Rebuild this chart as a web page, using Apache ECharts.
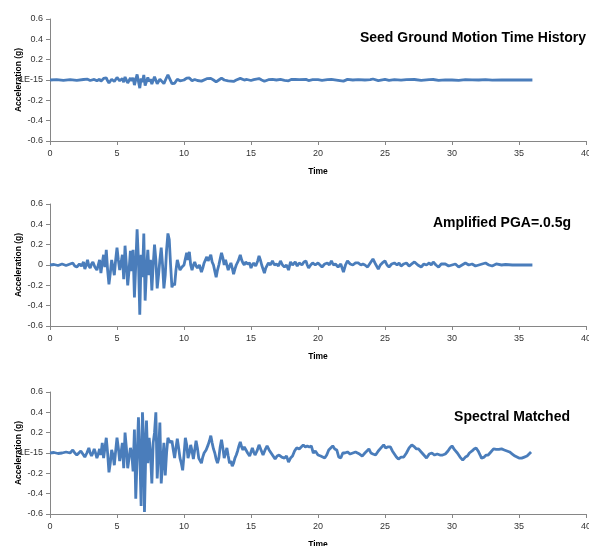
<!DOCTYPE html>
<html>
<head>
<meta charset="utf-8">
<script src="https://cdn.jsdelivr.net/npm/echarts@6/dist/echarts.min.js"></script>
<style>
  html, body { margin: 0; padding: 0; background: #fff; }
  #main { width: 589px; height: 546px; }
</style>
</head>
<body>
<div id="main"></div>
<script>
// titles, axis ticks
var panelTitles = ['Seed Ground Motion Time History', 'Amplified PGA=.0.5g', 'Spectral Matched'];
var zeroLabels = ['1E-15', '0', '1E-15'];
var xTicks = [0, 5, 10, 15, 20, 25, 30, 35, 40];
var yTicks = [-0.6, -0.4, -0.2, 0, 0.2, 0.4, 0.6];

// time (s), acceleration (g)
var seed = [
  [0,0],[0.5,0.003],[1.0,-0.003],[1.5,0.004],[2.0,-0.004],[2.5,0.005],[2.8,0.008],[3.0,-0.005],[3.3,0.006],[3.5,-0.008],
  [3.7,0.008],[3.8,-0.012],[4.0,0.015],[4.2,0.02],[4.3,-0.008],[4.4,-0.03],[4.6,0.008],[4.8,-0.015],[5.0,0.025],[5.2,-0.008],
  [5.4,0.015],[5.5,-0.022],[5.6,0.03],[5.8,-0.03],[6.0,0.02],[6.1,-0.01],[6.2,0.022],[6.3,-0.05],[6.5,0.055],[6.7,-0.08],
  [6.8,0.015],[6.9,-0.02],[7.0,0.05],[7.1,-0.055],[7.3,0.025],[7.4,-0.015],[7.5,0.008],[7.6,-0.04],[7.8,0.032],[8.0,-0.036],
  [8.2,0.008],[8.3,0.027],[8.5,-0.036],[8.7,0.024],[8.8,0.05],[8.9,0.04],[9.1,-0.035],[9.3,-0.032],[9.5,0.008],[9.7,-0.008],
  [10.0,0.0],[10.2,0.019],[10.3,0.008],[10.4,0.02],[10.6,-0.008],[10.8,0.005],[11.0,-0.005],[11.3,-0.011],[11.7,0.013],[12.0,0.016],
  [12.2,0.0],[12.4,-0.019],[12.6,0.0],[12.8,0.019],[13.0,0.0],[13.1,0.008],[13.3,-0.008],[13.7,-0.014],[13.9,0.0],[14.2,0.016],
  [14.5,0.0],[14.7,0.005],[15.0,-0.005],[15.2,0.003],[15.6,0.014],[15.8,0.0],[16.0,-0.013],[16.3,0.003],[16.6,0.006],[16.9,0.0],
  [17.2,0.006],[17.5,-0.003],[17.8,-0.008],[18.0,0.005],[18.3,0.005],[18.6,0.003],[19.1,0.006],[19.3,-0.005],[19.6,0.003],[20.0,0.003],
  [20.3,-0.003],[20.7,0.003],[21.0,0.006],[21.5,-0.003],[21.9,-0.011],[22.2,0.006],[22.6,0.0],[23.0,0.003],[23.5,0.0],[23.9,0.003],
  [24.1,0.01],[24.5,-0.006],[25.0,0.006],[25.3,-0.003],[25.7,0.003],[26.2,-0.002],[26.6,0.003],[27.2,0.005],[27.7,-0.003],[28.3,0.003],
  [28.6,0.005],[29.0,-0.003],[29.5,0.002],[30.0,0.0],[30.5,-0.003],[31.0,0.003],[31.5,0.002],[32.0,0.0],[32.5,0.003],[33.0,-0.002],
  [33.7,0.0],[34.5,0.0],[36.0,0.0]
];

var amplified = [
  [0,0],[0.3,0.005],[0.6,-0.005],[0.9,0.01],[1.2,-0.005],[1.5,0.01],[1.7,0.02],[1.85,-0.01],[2.0,-0.02],[2.2,0.01],
  [2.35,-0.01],[2.5,0.03],[2.6,-0.04],[2.7,0.0],[2.8,0.05],[2.9,-0.01],[3.0,-0.03],[3.1,0.01],[3.2,0.03],[3.35,-0.02],
  [3.5,-0.05],[3.6,0.0],[3.7,0.05],[3.8,-0.08],[3.9,0.02],[4.0,0.1],[4.1,-0.02],[4.2,0.15],[4.3,-0.05],[4.4,-0.19],
  [4.5,-0.08],[4.6,0.05],[4.7,-0.02],[4.8,-0.1],[4.9,0.05],[5.0,0.17],[5.1,0.05],[5.2,-0.05],[5.3,0.02],[5.4,0.1],
  [5.5,-0.14],[5.6,0.19],[5.7,0.0],[5.8,-0.2],[5.9,-0.05],[6.0,0.14],[6.1,-0.06],[6.2,0.15],[6.3,-0.32],[6.4,0.0],
  [6.5,0.35],[6.6,0.05],[6.7,-0.49],[6.8,0.1],[6.9,-0.12],[7.0,0.31],[7.1,-0.35],[7.2,-0.05],[7.3,0.15],[7.4,-0.1],
  [7.5,0.05],[7.6,-0.25],[7.7,0.0],[7.8,0.2],[7.9,0.05],[8.0,-0.23],[8.1,-0.1],[8.2,0.05],[8.3,0.17],[8.4,0.0],
  [8.5,-0.23],[8.6,-0.1],[8.7,0.15],[8.8,0.31],[8.9,0.25],[9.0,0.0],[9.1,-0.22],[9.2,-0.18],[9.3,-0.2],[9.4,-0.05],
  [9.5,0.05],[9.6,0.0],[9.7,-0.05],[9.85,-0.02],[10.0,0.0],[10.1,0.06],[10.2,0.12],[10.3,0.05],[10.4,0.13],[10.5,0.0],
  [10.6,-0.05],[10.7,0.0],[10.8,0.03],[10.9,-0.01],[11.0,-0.03],[11.15,0.0],[11.3,-0.07],[11.4,-0.03],[11.5,0.02],[11.6,0.01],
  [11.7,0.08],[11.8,0.04],[11.9,0.05],[12.0,0.1],[12.1,0.03],[12.2,0.0],[12.3,-0.06],[12.4,-0.12],[12.5,-0.05],[12.6,0.0],
  [12.7,0.06],[12.8,0.12],[12.9,0.07],[13.0,0.0],[13.1,0.05],[13.2,0.0],[13.3,-0.05],[13.4,-0.01],[13.5,0.02],[13.6,-0.03],
  [13.7,-0.09],[13.8,-0.04],[13.9,0.0],[14.05,0.04],[14.2,0.1],[14.3,0.05],[14.4,0.02],[14.5,0.0],[14.6,0.03],[14.75,0.01],
  [14.9,0.02],[15.0,-0.03],[15.1,0.0],[15.2,0.02],[15.35,-0.01],[15.5,0.04],[15.6,0.09],[15.7,0.05],[15.8,0.0],[15.9,-0.04],
  [16.0,-0.08],[16.1,-0.03],[16.3,0.02],[16.45,0.0],[16.6,0.04],[16.75,0.0],[16.9,0.01],[17.05,-0.01],[17.2,0.04],[17.35,0.0],
  [17.5,-0.02],[17.65,0.0],[17.8,-0.05],[17.95,0.03],[18.1,0.0],[18.3,0.03],[18.45,-0.01],[18.6,0.02],[18.8,0.0],[18.95,0.03],
  [19.1,0.04],[19.2,0.0],[19.3,-0.03],[19.45,0.0],[19.6,0.02],[19.8,0.0],[20.0,0.02],[20.15,0.0],[20.3,-0.02],[20.5,0.01],
  [20.7,0.02],[20.85,0.0],[21.0,0.04],[21.15,0.0],[21.3,0.01],[21.5,-0.02],[21.7,0.01],[21.9,-0.07],[22.05,0.0],[22.2,0.04],
  [22.4,0.01],[22.6,0.0],[22.8,0.02],[23.0,0.02],[23.2,0.0],[23.35,0.01],[23.5,0.0],[23.7,-0.02],[23.9,0.02],[24.1,0.06],
  [24.25,0.02],[24.5,-0.04],[24.65,0.0],[24.8,0.02],[25.0,0.04],[25.15,0.0],[25.3,-0.02],[25.5,0.01],[25.7,0.02],[25.9,0.0],
  [26.05,0.02],[26.2,-0.01],[26.4,0.01],[26.6,0.02],[26.8,-0.01],[27.0,0.01],[27.2,0.03],[27.45,0.0],[27.7,-0.02],[27.9,0.01],
  [28.1,0.0],[28.3,0.02],[28.45,0.0],[28.6,0.03],[28.8,0.0],[29.0,-0.02],[29.2,0.01],[29.5,0.01],[29.75,-0.01],[30.0,0.0],
  [30.25,0.01],[30.5,-0.02],[30.75,0.0],[31.0,0.02],[31.25,0.0],[31.5,0.01],[31.75,-0.01],[32.0,0.0],[32.25,0.01],[32.5,0.02],
  [32.75,0.0],[33.0,-0.01],[33.3,0.01],[33.7,0.0],[34.0,0.005],[34.5,0.0],[35.0,0.0],[35.5,0.0],[36.0,0.0]
];

var spectral = [
  [0,0],[0.3,0.005],[0.6,-0.005],[0.9,0.0],[1.2,0.01],[1.5,0.0],[1.7,0.03],[1.85,0.0],[2.0,-0.02],[2.15,0.0],
  [2.3,0.02],[2.45,-0.01],[2.6,-0.04],[2.75,0.0],[2.9,0.05],[3.0,0.0],[3.1,-0.03],[3.2,0.0],[3.3,0.04],[3.4,0.0],
  [3.5,-0.05],[3.6,-0.01],[3.7,0.04],[3.8,-0.02],[3.9,0.1],[4.0,-0.05],[4.1,0.05],[4.2,0.15],[4.3,0.0],[4.4,-0.19],
  [4.5,-0.1],[4.6,0.03],[4.7,-0.02],[4.8,-0.12],[4.9,0.02],[5.0,0.15],[5.1,0.05],[5.2,-0.08],[5.3,0.0],[5.4,0.1],
  [5.5,-0.15],[5.6,0.2],[5.7,0.05],[5.8,-0.15],[5.9,-0.05],[6.0,0.05],[6.1,0.0],[6.2,-0.18],[6.3,0.23],[6.4,-0.45],
  [6.5,-0.05],[6.6,0.35],[6.7,0.0],[6.8,-0.52],[6.9,0.4],[7.0,0.1],[7.05,-0.58],[7.2,0.32],[7.3,-0.1],[7.4,0.15],
  [7.5,0.0],[7.6,-0.3],[7.7,0.1],[7.8,0.2],[7.9,0.4],[8.0,-0.25],[8.1,0.0],[8.2,0.3],[8.3,-0.3],[8.4,-0.1],
  [8.5,0.1],[8.6,-0.22],[8.7,0.0],[8.8,0.15],[8.9,0.12],[9.0,0.1],[9.1,0.12],[9.2,0.03],[9.3,-0.05],[9.4,0.05],
  [9.5,0.14],[9.6,0.05],[9.7,-0.05],[9.8,-0.1],[9.9,-0.17],[10.0,-0.02],[10.1,0.15],[10.2,0.08],[10.3,-0.05],[10.4,0.0],
  [10.5,0.08],[10.6,0.02],[10.7,-0.06],[10.8,0.03],[10.9,0.12],[11.0,0.05],[11.1,-0.05],[11.2,-0.06],[11.3,-0.1],[11.4,-0.04],
  [11.5,0.0],[11.65,0.03],[11.8,0.08],[11.9,0.12],[12.0,0.17],[12.1,0.1],[12.2,0.04],[12.3,0.0],[12.4,-0.06],[12.5,-0.1],
  [12.6,-0.05],[12.7,0.06],[12.8,0.13],[12.9,0.05],[13.0,-0.05],[13.1,0.0],[13.2,0.05],[13.3,-0.03],[13.4,-0.1],[13.5,-0.08],
  [13.6,-0.13],[13.7,-0.1],[13.8,-0.05],[13.9,-0.02],[14.0,0.02],[14.1,0.07],[14.2,0.11],[14.3,0.06],[14.4,0.03],[14.5,0.06],
  [14.6,0.05],[14.75,0.0],[14.9,-0.03],[15.0,0.01],[15.1,0.05],[15.2,0.01],[15.3,-0.02],[15.45,0.02],[15.6,0.08],[15.75,0.03],
  [15.9,-0.02],[16.05,0.03],[16.2,0.07],[16.35,0.03],[16.5,0.0],[16.65,-0.03],[16.8,-0.06],[16.95,-0.03],[17.1,-0.02],[17.3,-0.04],
  [17.5,-0.05],[17.65,-0.03],[17.8,-0.09],[17.95,-0.05],[18.1,-0.03],[18.25,0.02],[18.4,0.05],[18.6,0.04],[18.75,0.06],[18.9,0.08],
  [19.05,0.06],[19.2,0.07],[19.35,0.06],[19.5,0.07],[19.65,0.0],[19.8,0.02],[20.0,-0.02],[20.2,-0.03],[20.35,-0.04],[20.5,-0.05],
  [20.65,-0.02],[20.8,0.03],[20.95,0.05],[21.1,0.07],[21.25,0.04],[21.4,0.03],[21.55,-0.04],[21.7,-0.05],[21.85,0.0],[22.0,0.0],
  [22.2,0.01],[22.4,-0.01],[22.6,0.0],[22.8,0.01],[22.9,0.02],[23.1,-0.01],[23.3,-0.03],[23.5,0.0],[23.65,0.02],[23.8,0.04],
  [23.95,0.0],[24.1,-0.01],[24.3,-0.02],[24.5,0.02],[24.7,0.05],[24.9,0.08],[25.05,0.05],[25.2,0.06],[25.4,0.06],[25.55,0.02],
  [25.7,-0.01],[25.85,-0.04],[26.0,-0.06],[26.2,-0.04],[26.4,-0.04],[26.6,0.0],[26.8,0.05],[27.0,0.08],[27.2,0.06],[27.35,0.04],
  [27.5,0.04],[27.7,0.01],[27.9,-0.02],[28.1,-0.05],[28.3,-0.01],[28.5,0.0],[28.7,-0.02],[28.9,-0.01],[29.1,-0.02],[29.3,-0.02],
  [29.5,-0.01],[29.7,0.02],[29.85,0.05],[30.0,0.07],[30.2,0.03],[30.4,0.0],[30.6,-0.04],[30.8,-0.07],[31.0,-0.04],[31.15,-0.03],
  [31.3,0.0],[31.5,0.02],[31.65,0.04],[31.8,0.05],[31.95,0.02],[32.1,-0.02],[32.2,-0.05],[32.4,-0.04],[32.55,-0.02],[32.7,-0.02],
  [32.9,0.01],[33.1,0.04],[33.3,0.035],[33.5,0.035],[33.7,0.04],[33.9,0.03],[34.1,0.02],[34.3,0.01],[34.5,-0.01],[34.7,-0.03],
  [34.85,-0.04],[35.0,-0.05],[35.2,-0.05],[35.4,-0.04],[35.6,-0.03],[35.75,-0.01],[35.9,0.01]
];

var seriesData = [seed, amplified, spectral];

var chart = echarts.init(document.getElementById('main'));
var font = 'Liberation Sans, Arial, sans-serif';
var gridTops = [19, 204, 392];
var titleTops = [31, 216, 410];
var titleRights = [3, 18, 19];

var grids = [], xAxes = [], yAxes = [], series = [], titles = [];
for (var i = 0; i < 3; i++) {
  (function(i){
    grids.push({ left: 50, right: 3, top: gridTops[i], height: 122, containLabel: false, outerBoundsMode: 'none' });
    titles.push({
      text: panelTitles[i], right: titleRights[i], top: titleTops[i], padding: 0,
      textStyle: { fontFamily: font, fontSize: 14, fontWeight: 'bold', color: '#000' }
    });
    xAxes.push({
      type: 'value', gridIndex: i, min: xTicks[0], max: xTicks[xTicks.length - 1], interval: 5,
      name: 'Time', nameLocation: 'middle', nameGap: 26, nameMoveOverlap: false,
      nameTextStyle: { fontFamily: font, fontSize: 8.5, fontWeight: 'bold', color: '#000' },
      axisLine: { show: true, onZero: false, lineStyle: { color: '#868686', width: 1 } },
      axisTick: { show: true, length: 4, lineStyle: { color: '#868686' } },
      axisLabel: { fontFamily: font, fontSize: 9, color: '#333', margin: 8 },
      splitLine: { show: false }
    });
    yAxes.push({
      type: 'value', gridIndex: i, min: yTicks[0], max: yTicks[yTicks.length - 1], interval: 0.2,
      name: 'Acceleration (g)', nameLocation: 'middle', nameGap: 27, nameMoveOverlap: false,
      nameTextStyle: { fontFamily: font, fontSize: 8.5, fontWeight: 'bold', color: '#000' },
      axisLine: { show: true, onZero: false, lineStyle: { color: '#868686', width: 1 } },
      axisTick: { show: true, length: 4, lineStyle: { color: '#868686' } },
      axisLabel: {
        fontFamily: font, fontSize: 9, color: '#333', margin: 7,
        formatter: function(v){ return Math.abs(v) < 1e-9 ? zeroLabels[i] : v.toFixed(1); }
      },
      splitLine: { show: false }
    });
    series.push({
      type: 'line', xAxisIndex: i, yAxisIndex: i, data: seriesData[i],
      showSymbol: false, symbol: 'none',
      lineStyle: { color: '#4a7dbb', width: 2.8 }
    });
  })(i);
}

chart.setOption({
  animation: false,
  backgroundColor: '#fff',
  title: titles,
  grid: grids,
  xAxis: xAxes,
  yAxis: yAxes,
  series: series
});
</script>
</body>
</html>
